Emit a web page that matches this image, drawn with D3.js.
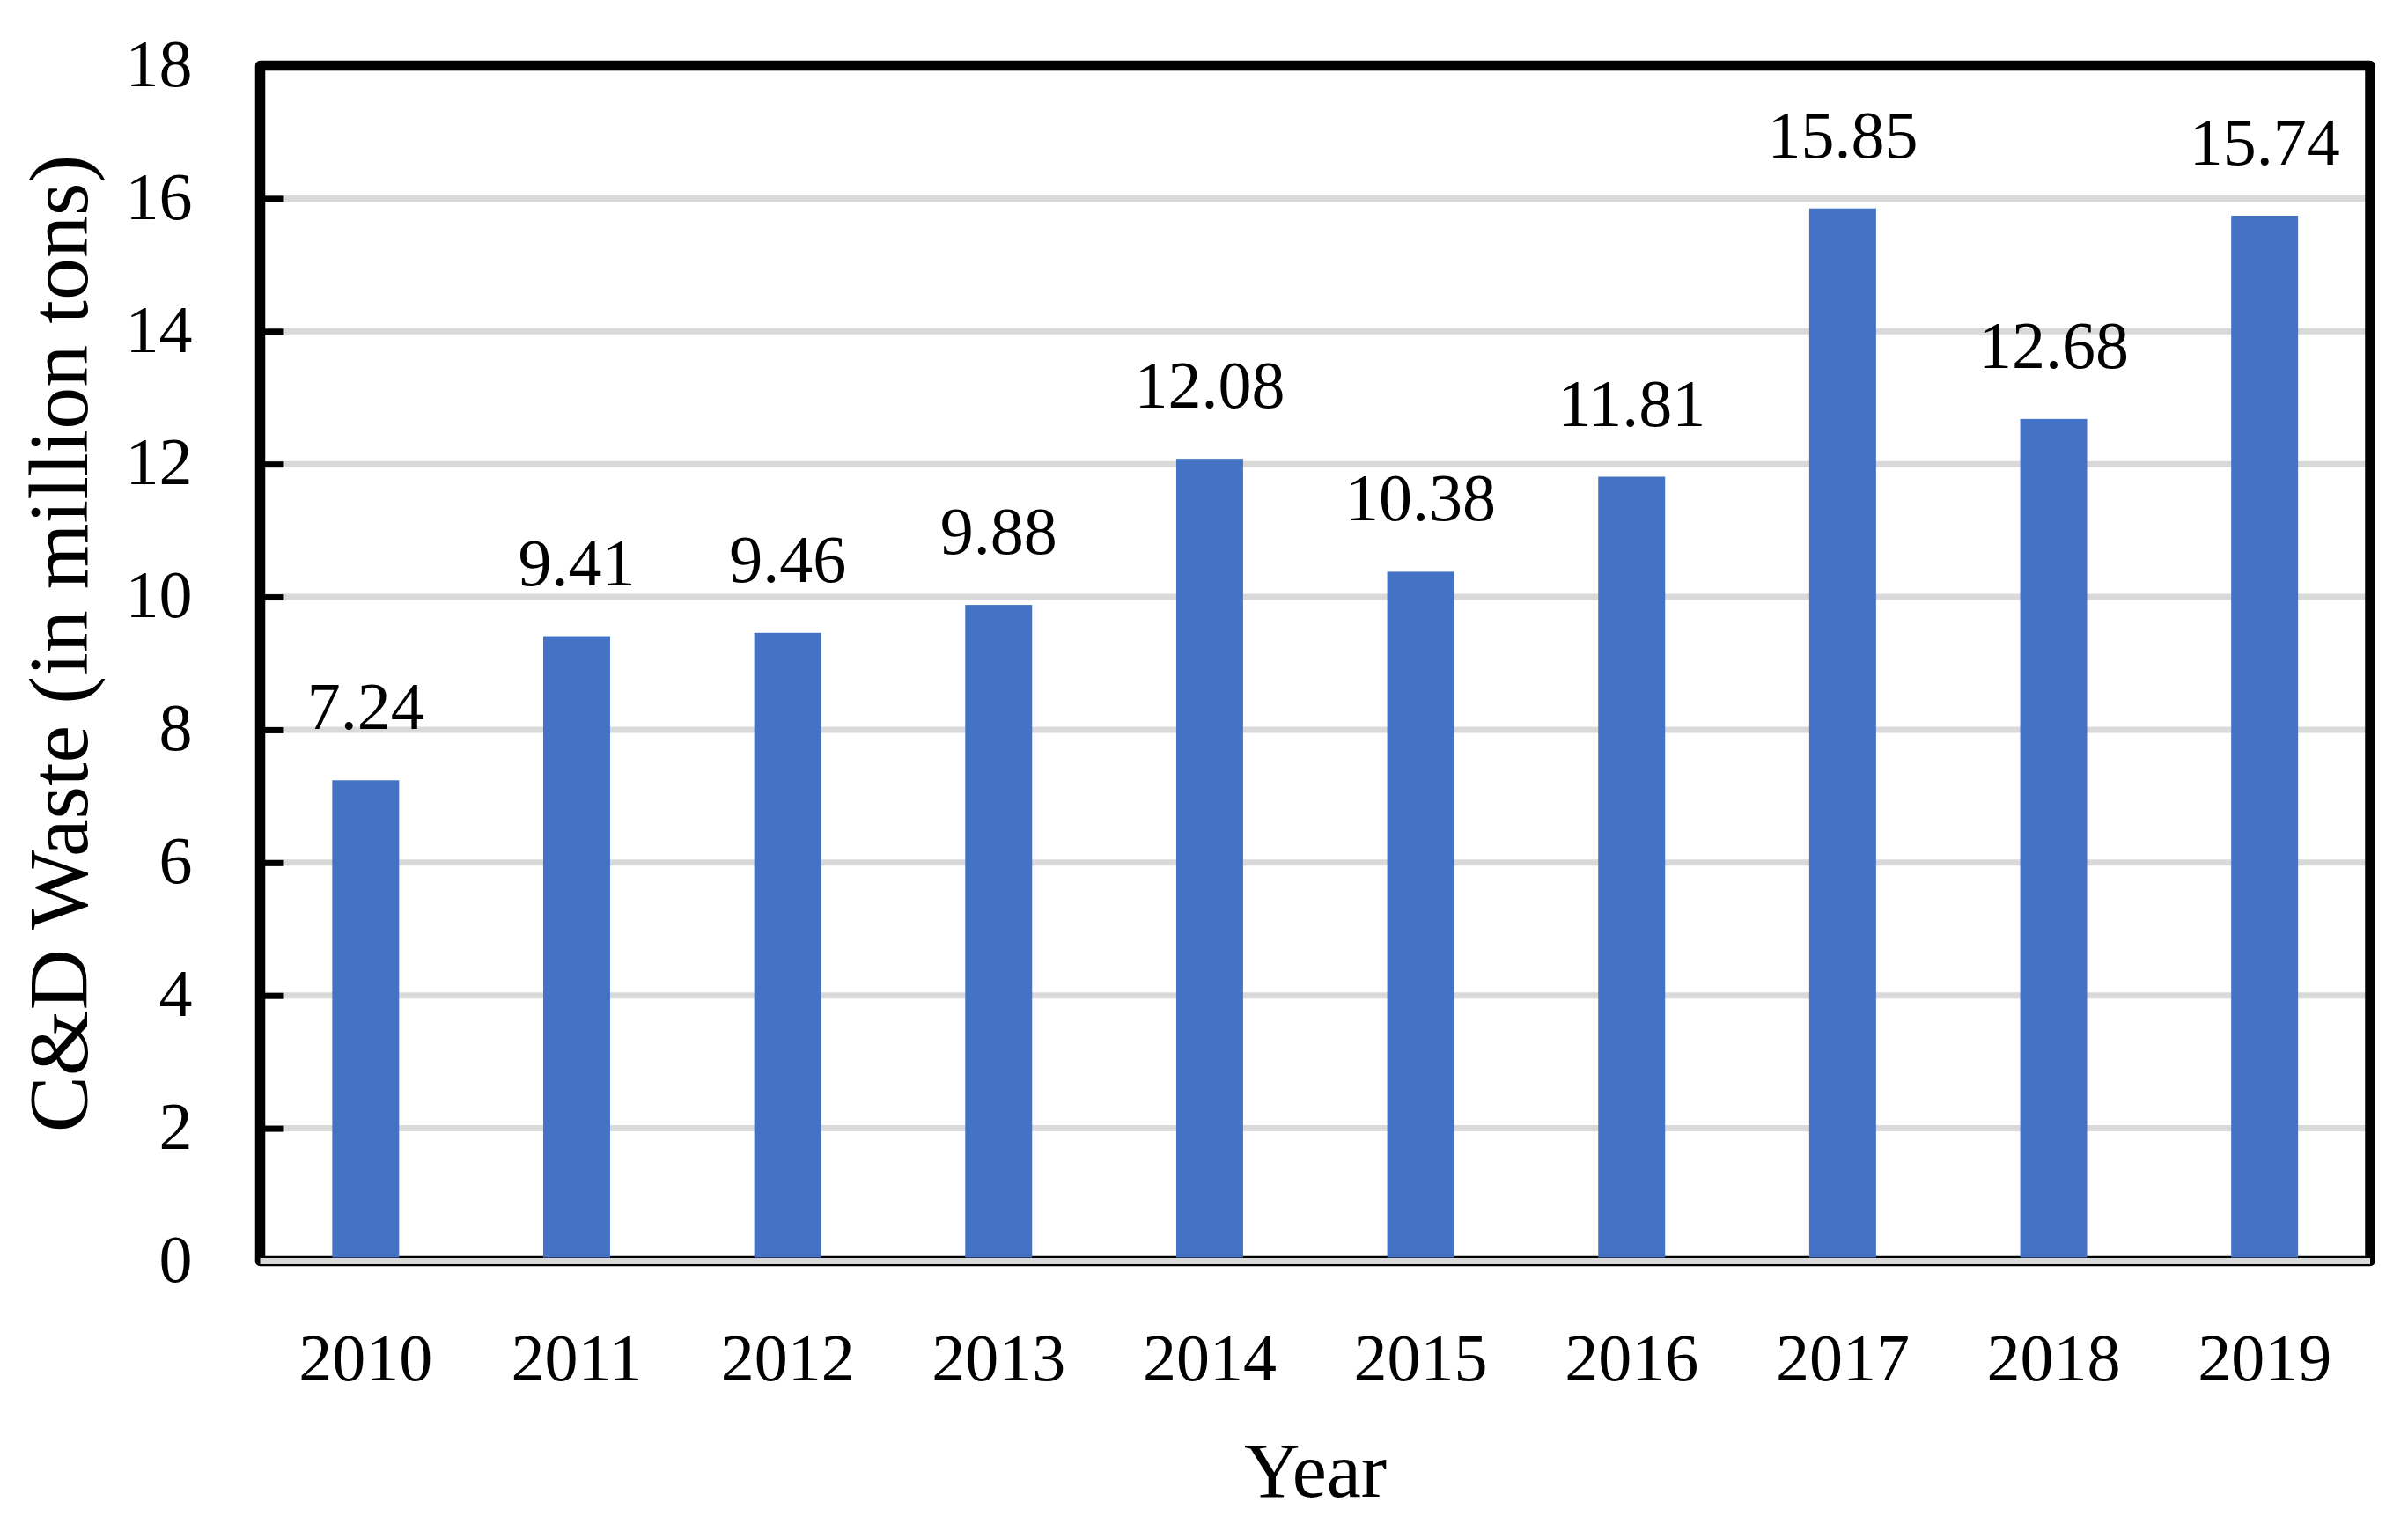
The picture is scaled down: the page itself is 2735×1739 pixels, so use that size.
<!DOCTYPE html>
<html>
<head>
<meta charset="utf-8">
<script src="https://cdn.jsdelivr.net/npm/d3@7"></script>
<style>
  body { margin: 0; background: #fff; }
  text { font-family: "Palatino Linotype", "Book Antiqua", "Liberation Serif", serif; fill: #000; }
</style>
</head>
<body>
<div id="chart"></div>
<script>
// data
const years = ['2010', '2011', '2012', '2013', '2014', '2015', '2016', '2017', '2018', '2019'];
const waste = [7.24, 9.41, 9.46, 9.88, 12.08, 10.38, 11.81, 15.85, 12.68, 15.74];
const yTicks = [0, 2, 4, 6, 8, 10, 12, 14, 16, 18];

const config = {
    containerWidth: 2735,
    containerHeight: 1739,
    margin: {top: 74.5, right: 43, bottom: 306.5, left: 295.5}
};

const width = config.containerWidth - config.margin.left - config.margin.right;
const height = config.containerHeight - config.margin.top - config.margin.bottom;

const svg = d3.select('#chart')
    .append('svg')
    .attr('width', config.containerWidth)
    .attr('height', config.containerHeight);

svg.append('rect')
    .attr('width', config.containerWidth)
    .attr('height', config.containerHeight)
    .attr('fill', '#fff');

const chart = svg.append('g')
    .attr('transform', `translate(${config.margin.left},${config.margin.top})`);

const xScale = d3.scaleBand()
    .domain(years)
    .range([0, width])
    .paddingInner(0.683)
    .paddingOuter(0.3415);

const yScale = d3.scaleLinear()
    .domain([0, 18])
    .range([height, 0]);

// gridlines
chart.append('g')
    .attr('class', 'grid')
    .selectAll('line')
    .data(yTicks.filter(d => d > 0 && d < 18))
    .join('line')
    .attr('x1', 0)
    .attr('x2', width)
    .attr('y1', d => yScale(d))
    .attr('y2', d => yScale(d))
    .attr('stroke', '#d9d9d9')
    .attr('stroke-width', 7);

// frame
chart.append('rect')
    .attr('x', 0)
    .attr('y', 0)
    .attr('width', width)
    .attr('height', height)
    .attr('fill', 'none')
    .attr('stroke', '#000')
    .attr('stroke-width', 11.5)
    .attr('stroke-linejoin', 'round');

// y axis: inside ticks, labels on the left
const yAxis = d3.axisLeft(yScale)
    .tickValues(yTicks)
    .tickSize(-26)
    .tickPadding(77)
    .tickFormat(d3.format('d'));

const yAxisG = chart.append('g')
    .attr('class', 'axis y-axis')
    .call(yAxis);

yAxisG.select('.domain').remove();
yAxisG.selectAll('line')
    .attr('stroke', '#000')
    .attr('stroke-width', 7);
yAxisG.selectAll('text')
    .style('font-size', '76px')
    .attr('dy', '0.3em');

// bars
chart.selectAll('.bar')
    .data(waste)
    .join('rect')
    .attr('class', 'bar')
    .attr('x', (d, i) => xScale(years[i]))
    .attr('width', xScale.bandwidth())
    .attr('y', d => yScale(d))
    .attr('height', d => height - 4 - yScale(d))
    .attr('fill', '#4472c4');

// zero line
chart.append('line')
    .attr('x1', 0)
    .attr('x2', width)
    .attr('y1', yScale(0))
    .attr('y2', yScale(0))
    .attr('stroke', '#d9d9d9')
    .attr('stroke-width', 7);

// value labels
chart.selectAll('.value')
    .data(waste)
    .join('text')
    .attr('class', 'value')
    .attr('x', (d, i) => xScale(years[i]) + xScale.bandwidth() / 2)
    .attr('y', d => yScale(d) - 58)
    .attr('text-anchor', 'middle')
    .style('font-size', '76px')
    .text(d => d3.format('.2f')(d));

// x axis
const xAxis = d3.axisBottom(xScale)
    .tickSize(0)
    .tickPadding(82);

const xAxisG = chart.append('g')
    .attr('class', 'axis x-axis')
    .attr('transform', `translate(0,${height})`)
    .call(xAxis);

xAxisG.select('.domain').remove();
xAxisG.selectAll('text')
    .style('font-size', '76px');

// axis titles
svg.append('text')
    .attr('transform', 'rotate(-90)')
    .attr('x', -731)
    .attr('y', 99)
    .attr('text-anchor', 'middle')
    .style('font-size', '96px')
    .text('C&D Waste (in million tons)');

svg.append('text')
    .attr('x', 1494)
    .attr('y', 1700)
    .attr('text-anchor', 'middle')
    .style('font-size', '88px')
    .text('Year');
</script>
</body>
</html>
